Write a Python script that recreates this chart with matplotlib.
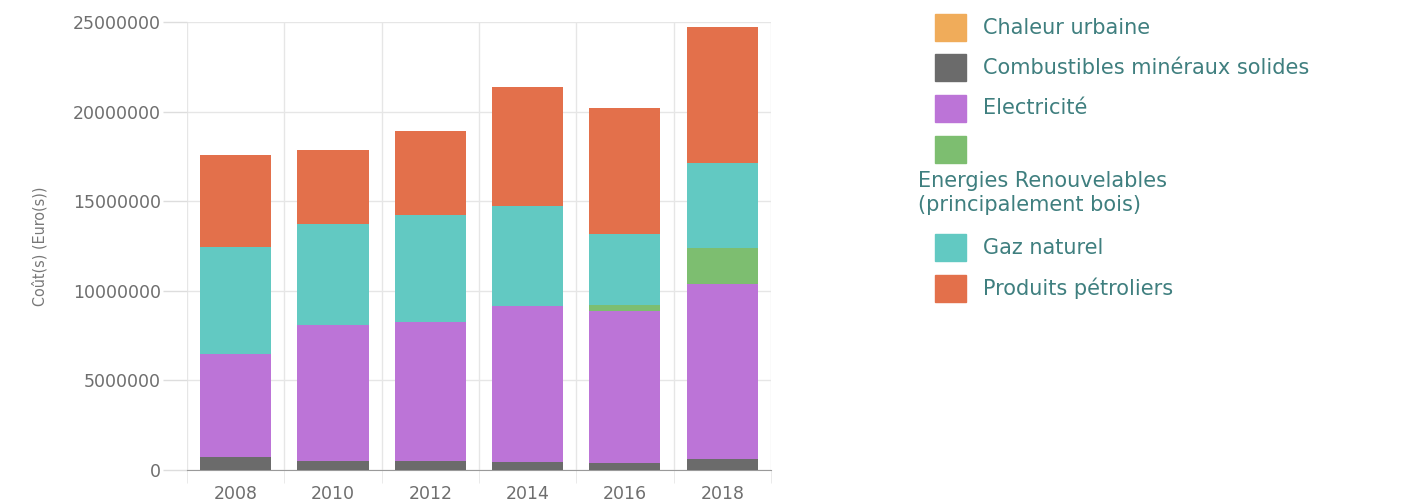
import numpy as np
import matplotlib
matplotlib.use("Agg")
import matplotlib.pyplot as plt
from matplotlib.patches import Rectangle

annees = ['2008', '2010', '2012', '2014', '2016', '2018']

# couts par energie (euros)
chaleur_urbaine = [0, 0, 0, 0, 0, 0]
combustibles = [740000, 520000, 520000, 450000, 370000, 600000]
electricite = [5720000, 7550000, 7740000, 8700000, 8520000, 9760000]
renouvelables = [0, 0, 0, 0, 320000, 2030000]
gaz_naturel = [5980000, 5640000, 5970000, 5560000, 3940000, 4720000]
petroliers = [5140000, 4160000, 4690000, 6680000, 7070000, 7630000]

series = [
    ('Chaleur urbaine', chaleur_urbaine, '#F0AC5A'),
    ('Combustibles minéraux solides', combustibles, '#6B6B6B'),
    ('Electricité', electricite, '#BC74D7'),
    ('Energies Renouvelables\n(principalement bois)', renouvelables, '#7DBE70'),
    ('Gaz naturel', gaz_naturel, '#62C9C2'),
    ('Produits pétroliers', petroliers, '#E3704B'),
]

fig = plt.figure(figsize=(14.19, 5.03), dpi=100)
ax = fig.add_axes([0.1318, 0.0656, 0.4115, 0.8907])

x = np.arange(len(annees))
bas = np.zeros(len(annees))
for nom, vals, couleur in series:
    ax.bar(x, vals, width=0.73, bottom=bas, color=couleur, zorder=3)
    bas += np.array(vals)

ax.set_xlim(-0.5, len(annees) - 0.5)
ax.set_ylim(0, 25000000)
ax.set_yticks(np.arange(0, 25000001, 5000000))
ax.set_yticklabels([str(v) for v in range(0, 25000001, 5000000)])
ax.set_xticks(x)
ax.set_xticklabels(annees)
ax.set_xticks(np.arange(-0.5, len(annees)), minor=True)

for s in ['top', 'right', 'left']:
    ax.spines[s].set_visible(False)
ax.spines['bottom'].set_color('#9a9a9a')

ax.grid(axis='y', color='#e6e6e6', linewidth=1, zorder=0)
ax.grid(axis='x', which='minor', color='#e6e6e6', linewidth=1, zorder=0)
ax.tick_params(axis='y', length=17, width=1, color='#dddddd', pad=2,
               labelsize=12.5, labelcolor='#6e6e6e')
ax.tick_params(axis='x', which='major', length=0, pad=11,
               labelsize=12.5, labelcolor='#6e6e6e')
ax.tick_params(axis='x', which='minor', length=9, color='#e6e6e6')
for lab in ax.get_xticklabels() + ax.get_yticklabels():
    lab.set_family('DejaVu Sans')

ax.set_ylabel('Coût(s) (Euro(s))', fontsize=11.5, color='#777777',
              family='DejaVu Sans', fontstretch='condensed', labelpad=18)

# legende dessinee a la main
W, H = 1419.0, 503.0
txt_col = '#3f7f7f'
rangs = [27.5, 67.5, 108.5, 149, 247.5, 288.5]
for i, (nom, vals, couleur) in enumerate(series):
    yc = rangs[i]
    fig.patches.append(Rectangle((935 / W, 1 - (yc + 13.5) / H), 31 / W, 27 / H,
                                 transform=fig.transFigure, color=couleur))
    if '\n' in nom:
        fig.text(918 / W, 1 - 193 / H, nom, fontsize=15, color=txt_col,
                 va='center', ha='left', linespacing=1.3, family='DejaVu Sans')
    else:
        fig.text(983 / W, 1 - yc / H, nom, fontsize=15, color=txt_col,
                 va='center', ha='left', family='DejaVu Sans')

fig.savefig('out.png', dpi=100)
